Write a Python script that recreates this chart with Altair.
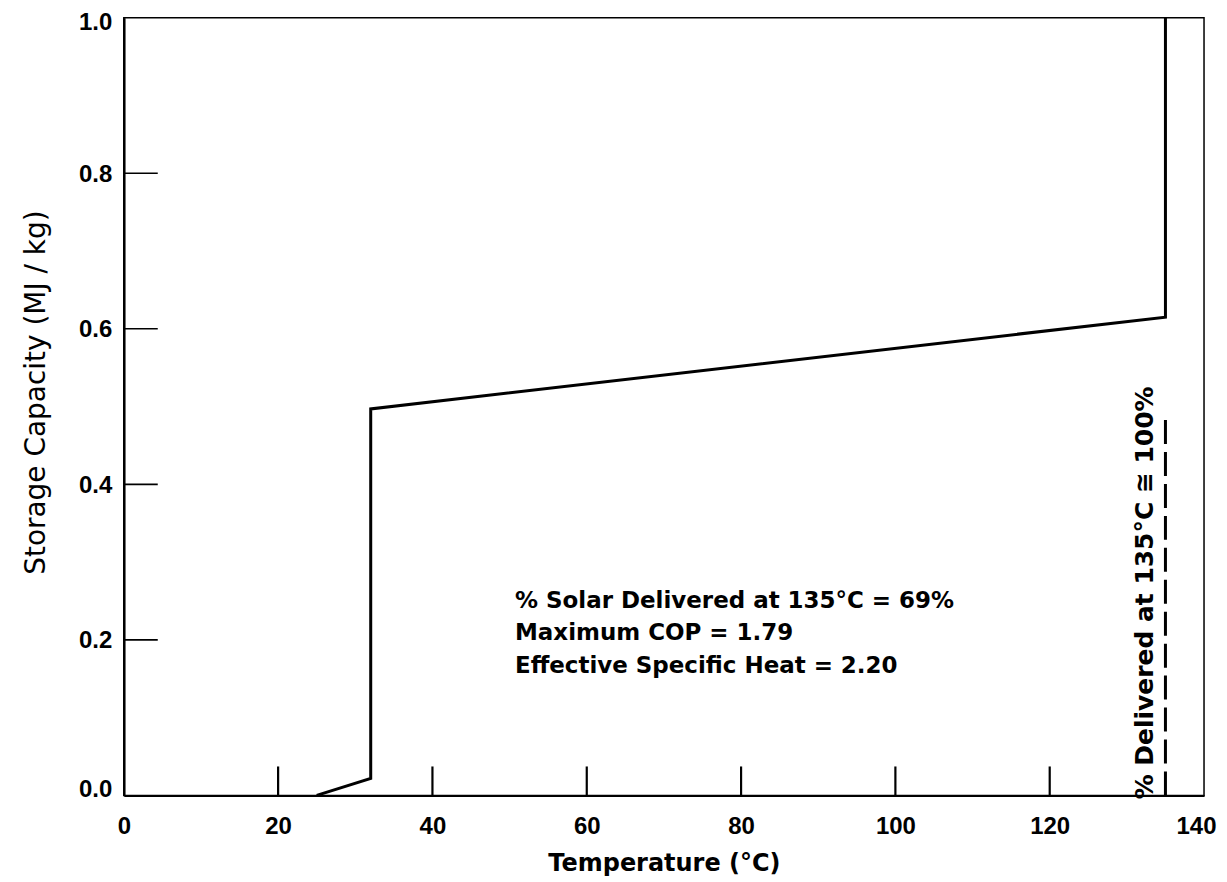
import altair as alt
import pandas as pd

# --- data ---
temp = [25, 32, 32, 135, 135]
capacity = [0.0, 0.022, 0.497, 0.615, 1.0]

x_tick_values = [0, 20, 40, 60, 80, 100, 120, 140]
y_tick_values = [0.0, 0.2, 0.4, 0.6, 0.8, 1.0]
x_inner_ticks = [20, 40, 60, 80, 100, 120]
y_inner_ticks = [0.2, 0.4, 0.6, 0.8]

dash_temp = [135]
dash_bottom = [0.0]
dash_top = [0.49]

notes = [
    "% Solar Delivered at 135°C = 69%",
    "Maximum COP = 1.79",
    "Effective Specific Heat = 2.20",
]
note_x = 50.7
note_y = 0.241

side_note = "% Delivered at 135°C ≅ 100%"
side_x = 133.4
side_y = -0.005

# --- tables ---
curve = pd.DataFrame({"t": temp, "c": capacity, "i": list(range(len(temp)))})
xt = pd.DataFrame({"t": x_inner_ticks})
yt = pd.DataFrame({"c": y_inner_ticks})
dash = pd.DataFrame({"t": dash_temp, "c": dash_bottom, "c2": dash_top})

xscale = alt.Scale(domain=[0, 140], nice=False, zero=False)
yscale = alt.Scale(domain=[0, 1], nice=False, zero=False)

W, H = 1082, 779

xaxis = alt.Axis(
    values=x_tick_values, ticks=False, grid=False, domainColor="black", domainWidth=2,
    labelFont="Liberation Sans", labelFontWeight="bold", labelFontSize=24, labelColor="black",
    labelPadding=19, labelFlush=False, labelOverlap=False,
    labelOffset={"condition": {"test": "datum.value == 140", "value": -8}, "value": 0},
    title="Temperature (°C)", titleFont="DejaVu Sans", titleFontWeight="bold",
    titleFontSize=24, titleColor="black", titlePadding=13,
)
yaxis = alt.Axis(
    values=y_tick_values, format=".1f", ticks=False, grid=False, domainColor="black", domainWidth=2.5,
    labelFont="Liberation Sans", labelFontWeight="bold", labelFontSize=24, labelColor="black",
    labelPadding=12, labelFlush=False, labelOverlap=False,
    labelOffset={"condition": [{"test": "datum.value == 0", "value": -6},
                               {"test": "datum.value == 1", "value": 5}], "value": 1},
    title="Storage Capacity (MJ / kg)", titleFont="DejaVu Sans", titleFontWeight="normal",
    titleFontSize=28, titleColor="black", titlePadding=28, titleY=375,
)

XT = "Temperature (°C)"
YT = "Storage Capacity (MJ / kg)"

line = alt.Chart(curve).mark_line(color="black", strokeWidth=3, strokeJoin="miter", clip=False).encode(
    x=alt.X("t:Q", scale=xscale, axis=xaxis, title=XT),
    y=alt.Y("c:Q", scale=yscale, axis=yaxis, title=YT),
    order=alt.Order("i:Q"),
)

xticks = alt.Chart(xt).mark_rule(color="black", strokeWidth=2.2, y2Offset=-29).encode(
    x=alt.X("t:Q", scale=xscale, axis=xaxis, title=XT),
    y=alt.Y(datum=0, scale=yscale, axis=yaxis, title=YT),
    y2=alt.Y2(datum=0),
)

yticks = alt.Chart(yt).mark_rule(color="black", strokeWidth=1.6, x2Offset=34).encode(
    y=alt.Y("c:Q", scale=yscale, axis=yaxis, title=YT),
    x=alt.X(datum=0, scale=xscale, axis=xaxis, title=XT),
    x2=alt.X2(datum=0),
)

dashed = alt.Chart(dash).mark_rule(color="black", strokeWidth=3, strokeDash=[24, 8]).encode(
    x=alt.X("t:Q", scale=xscale, axis=xaxis, title=XT),
    y=alt.Y("c:Q", scale=yscale, axis=yaxis, title=YT),
    y2="c2:Q",
)

note = alt.Chart(pd.DataFrame({"k": [0]})).mark_text(
    text=notes, align="left", baseline="alphabetic", font="DejaVu Sans", fontWeight="bold",
    fontSize=23, lineHeight=32.5, color="black",
).encode(
    x=alt.X(datum=note_x, scale=xscale, axis=xaxis, title=XT),
    y=alt.Y(datum=note_y, scale=yscale, axis=yaxis, title=YT),
)

side = alt.Chart(pd.DataFrame({"k": [0]})).mark_text(
    text=side_note, angle=270, align="left", baseline="alphabetic", font="DejaVu Sans",
    fontWeight="bold", fontSize=25, color="black",
).encode(
    x=alt.X(datum=side_x, scale=xscale, axis=xaxis, title=XT),
    y=alt.Y(datum=side_y, scale=yscale, axis=yaxis, title=YT),
)

chart = alt.layer(line, xticks, yticks, dashed, note, side).properties(
    width=W, height=H,
    autosize=alt.AutoSizeParams(type="none"),
    padding={"left": 116, "top": 9, "right": 15, "bottom": 84},
    background="white",
).configure_view(stroke="black", strokeWidth=1.5)

chart.save("out.html", embed_options={"renderer": "svg", "actions": False})
